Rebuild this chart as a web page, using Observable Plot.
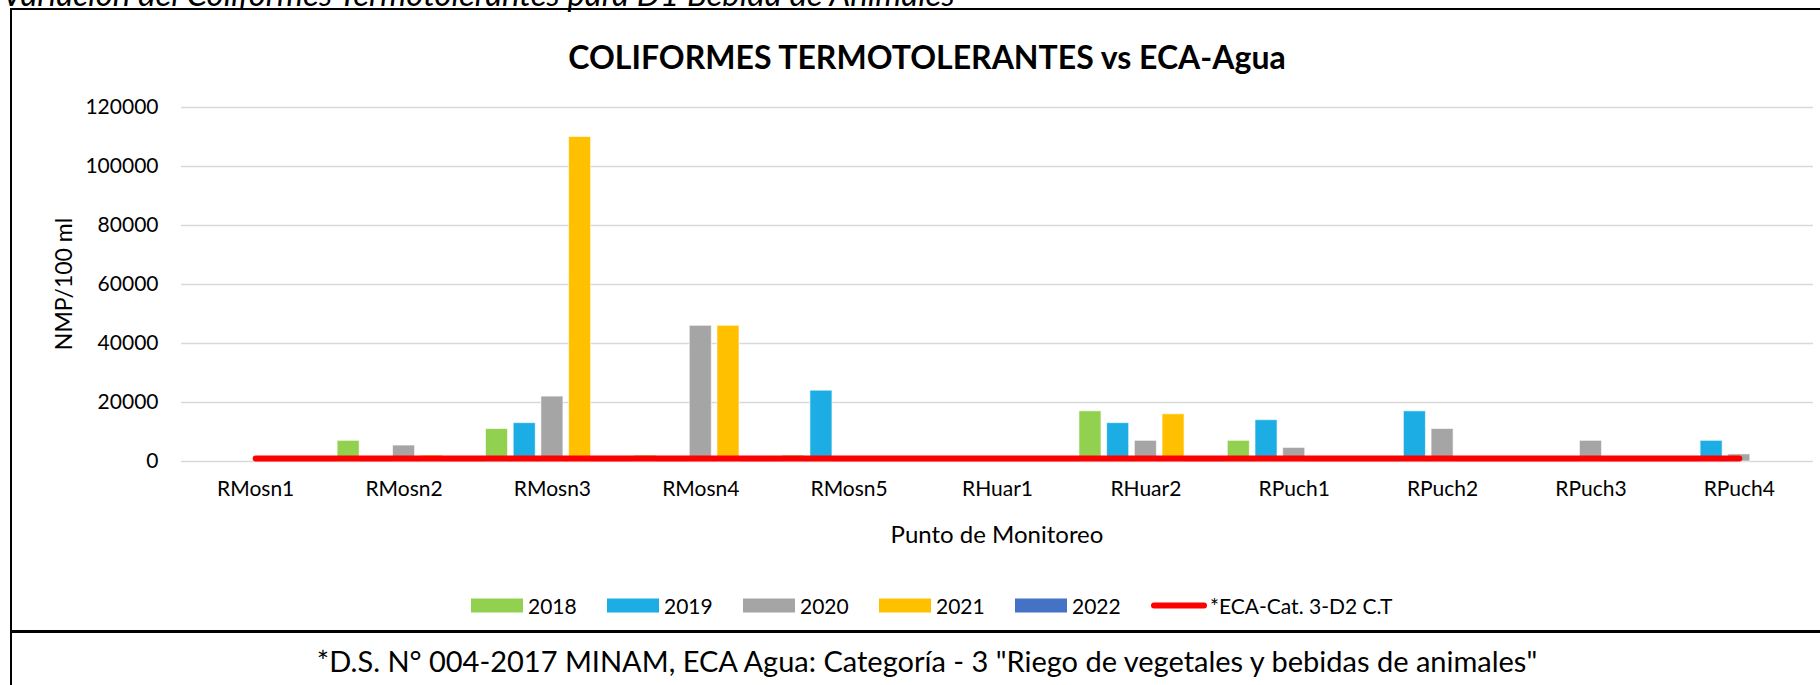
<!DOCTYPE html>
<html>
<head>
<meta charset="utf-8">
<script src="https://cdn.jsdelivr.net/npm/d3@7"></script>
<script src="https://cdn.jsdelivr.net/npm/@observablehq/plot@0.6"></script>
<style>
  html, body { margin: 0; padding: 0; background: #fff; }
  body { width: 1820px; height: 685px; position: relative; overflow: hidden; font-family: Lato, "Noto Sans", sans-serif; color: #000; }
  .abs { position: absolute; white-space: nowrap; }
</style>
</head>
<body>
<div id="root"></div>
<script>
// ---------- data ----------
const categories = ["RMosn1","RMosn2","RMosn3","RMosn4","RMosn5","RHuar1","RHuar2","RPuch1","RPuch2","RPuch3","RPuch4"];
const years = ["2018","2019","2020","2021","2022"];
const v2018 = [null, 7000, 11000, 2000, 2000, null, 17000, 7000, null, null, null];
const v2019 = [null, null, 13000, null, 24000, null, 13000, 14000, 17000, null, 7000];
const v2020 = [null, 5400, 22000, 46000, null, null, 7000, 4600, 11000, 7000, 2400];
const v2021 = [null, 2000, 110000, 46000, null, null, 16000, null, null, null, null];
const v2022 = [null, null, null, null, null, null, null, null, null, null, null];
const ecaValues = [1000, 1000, 1000, 1000, 1000, 1000, 1000, 1000, 1000, 1000, 1000];
const ecaLabel = "*ECA-Cat. 3-D2 C.T";
const yTicks = [0, 20000, 40000, 60000, 80000, 100000, 120000];
const titleText = "COLIFORMES TERMOTOLERANTES vs ECA-Agua";
const topText = "Variación del Coliformes Termotolerantes para D1 Bebida de Animales";
const yLabel = "NMP/100 ml";
const xLabel = "Punto de Monitoreo";
const footText = '*D.S. N° 004-2017 MINAM, ECA Agua: Categoría - 3 "Riego de vegetales y bebidas de animales"';

// ---------- styles ----------
const colors = ["#92D050", "#1CADE4", "#A5A5A5", "#FFC000", "#4472C4"];
const ecaColor = "#FF0000";
const series = [v2018, v2019, v2020, v2021, v2022];

const W = 1820, H = 520, mL = 181, mR = 7, mT = 107, mB = 59;
const bw = (W - mL - mR) / categories.length;
const step = bw * 0.1867, barW = step * 0.795;
const groupW = years.length * step - (step - barW);
const off0 = (bw - groupW) / 2;

const barMarks = series.map((vals, i) => {
  const data = categories.map((c, j) => ({cat: c, value: vals[j]})).filter(d => d.value != null);
  const left = off0 + i * step;
  return Plot.barY(data, {
    x: "cat", y: "value", fill: colors[i],
    insetLeft: left, insetRight: bw - left - barW,
    stroke: "#fff", strokeOpacity: 0.6, strokeWidth: 1
  });
});

const ecaData = categories.map((c, j) => ({cat: c, value: ecaValues[j]}));

const chart = Plot.plot({
  width: W, height: H,
  marginLeft: mL, marginRight: mR, marginTop: mT, marginBottom: mB,
  style: {background: "transparent", fontFamily: "Lato, sans-serif", fontSize: "21px", color: "#000"},
  x: {domain: categories, padding: 0, round: false, label: null},
  y: {domain: [0, 120000], label: null},
  marks: [
    Plot.gridY(yTicks, {stroke: "#d9d9d9", strokeOpacity: 1, strokeWidth: 1.5}),
    ...barMarks,
    Plot.lineY(ecaData, {x: "cat", y: "value", stroke: ecaColor, strokeWidth: 6, strokeLinecap: "round"}),
    Plot.axisY({ticks: yTicks, tickSize: 0, tickPadding: 23, tickFormat: d => String(d), label: null, fontSize: 21}),
    Plot.axisX({tickSize: 0, tickPadding: 20, label: null, fontSize: 21})
  ]
});
chart.style.position = "absolute";
chart.style.left = "0px";
chart.style.top = "0px";

const root = document.getElementById("root");

function el(tag, css, text) {
  const e = document.createElement(tag);
  e.className = "abs";
  Object.assign(e.style, css);
  if (text != null) e.textContent = text;
  root.appendChild(e);
  return e;
}

// frame
el("div", {left: "10px", top: "8px", width: "1850px", height: "620px", borderLeft: "2px solid #000", borderTop: "2.5px solid #000", borderBottom: "3px solid #000"});
el("div", {left: "10px", top: "631px", width: "2px", height: "60px", background: "#000"});

// top cropped text (cut off at the top edge, as in the source)
el("div", {left: "2px", top: "-27px", fontStyle: "italic", fontSize: "33px", lineHeight: "normal"}, topText);

root.appendChild(chart);

// title
el("div", {left: "927px", top: "56px", transform: "translate(-50%,-50%)", fontWeight: "700", fontSize: "32px"}, titleText);

// axis labels
el("div", {left: "63px", top: "284px", transform: "translate(-50%,-50%) rotate(-90deg)", fontSize: "23px"}, yLabel);
el("div", {left: "997px", top: "533px", transform: "translate(-50%,-50%)", fontSize: "24px"}, xLabel);

// legend
const leg = el("div", {left: "471px", top: "605px", transform: "translateY(-50%)", display: "flex", alignItems: "center", fontSize: "21px"});
years.forEach((y, i) => {
  const item = document.createElement("span");
  Object.assign(item.style, {display: "inline-flex", alignItems: "center", width: "136px"});
  const sw = document.createElement("span");
  Object.assign(sw.style, {display: "inline-block", width: "52px", height: "14px", background: colors[i], marginRight: "5px"});
  const lb = document.createElement("span");
  lb.textContent = y;
  item.appendChild(sw); item.appendChild(lb);
  leg.appendChild(item);
});
const ecaItem = document.createElement("span");
Object.assign(ecaItem.style, {display: "inline-flex", alignItems: "center"});
const ln = document.createElement("span");
Object.assign(ln.style, {display: "inline-block", width: "56px", height: "6px", borderRadius: "3px", background: ecaColor, marginRight: "3px"});
const lt = document.createElement("span");
lt.textContent = ecaLabel;
ecaItem.appendChild(ln); ecaItem.appendChild(lt);
leg.appendChild(ecaItem);

// footer
el("div", {left: "927px", top: "660px", transform: "translate(-50%,-50%)", fontSize: "29px"}, footText);
</script>
</body>
</html>
